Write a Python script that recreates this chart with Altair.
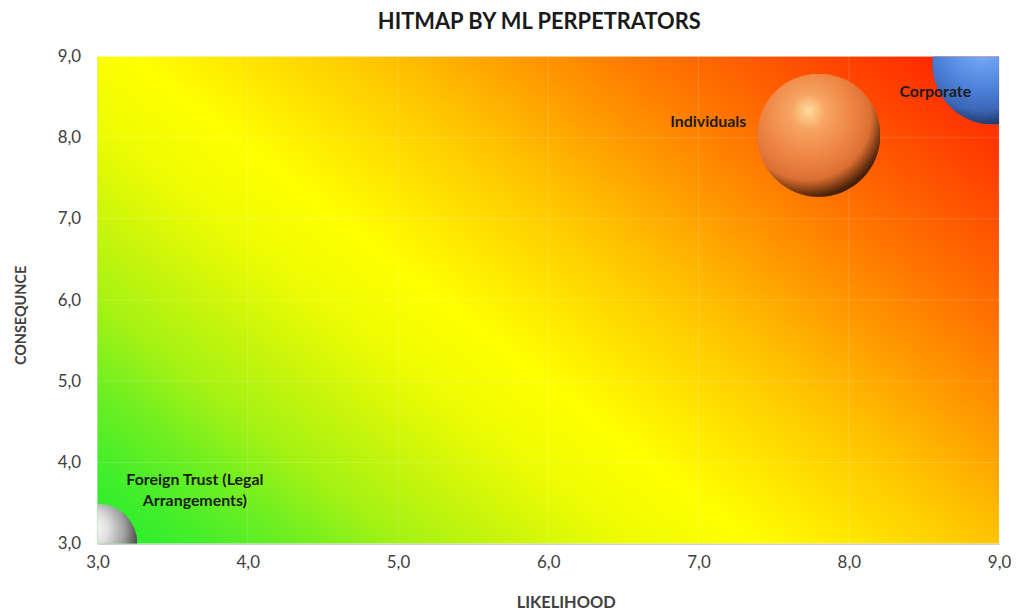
import altair as alt
import pandas as pd

# ---- data ----
names = ["Foreign Trust (Legal Arrangements)", "Individuals", "Corporate"]
labels = ["Foreign Trust (Legal\nArrangements)", "Individuals", "Corporate"]
likelihood = [3.0, 7.8, 8.96]
consequence = [3.0, 8.03, 8.91]
bubble_size = [4.2, 10.0, 9.7]
tick_values = [3, 4, 5, 6, 7, 8, 9]

df = pd.DataFrame({
    "name": names,
    "label": labels,
    "likelihood": likelihood,
    "consequence": consequence,
    "bubble": bubble_size,
})
bg = pd.DataFrame({"x0": [min(tick_values)], "x1": [max(tick_values)],
                   "y0": [min(tick_values)], "y1": [max(tick_values)]})
ticks = pd.DataFrame({"v": tick_values})

FONT = "Lato"
label_expr = "replace(format(datum.value, '.1f'), '.', ',')"

xscale = alt.Scale(domain=[3, 9], nice=False, zero=False)
yscale = alt.Scale(domain=[3, 9], nice=False, zero=False)

x_axis = alt.Axis(values=tick_values, labelExpr=label_expr, grid=False, ticks=False,
                  labelFlush=False, labelOverlap=False,
                  domainColor="#b0b0b0", labelFont=FONT, labelFontSize=17,
                  labelColor="#404040", labelPadding=11, title="LIKELIHOOD",
                  titleFont=FONT, titleFontSize=16.5, titleFontWeight="bold",
                  titleColor="#404040", titlePadding=24, titleX=471)
y_axis = alt.Axis(values=tick_values, labelExpr=label_expr, grid=False, ticks=False,
                  labelFlush=False, labelOverlap=False,
                  domainColor="#b0b0b0", labelFont=FONT, labelFontSize=17,
                  labelColor="#404040", labelPadding=17, title="CONSEQUNCE",
                  titleFont=FONT, titleFontSize=14.5, titleFontWeight="bold",
                  titleColor="#404040", titlePadding=29, titleY=260)

bg_gradient = {
    "gradient": "linear", "x1": 0, "y1": 1, "x2": 1.145, "y2": 0.21,
    "stops": [
        {"offset": 0.0, "color": "#22ee30"},
        {"offset": 0.07, "color": "#44ee2a"},
        {"offset": 0.14, "color": "#74ef20"},
        {"offset": 0.2, "color": "#a4f214"},
        {"offset": 0.27, "color": "#c8f50c"},
        {"offset": 0.35, "color": "#eefc02"},
        {"offset": 0.43, "color": "#ffff00"},
        {"offset": 0.5, "color": "#ffe600"},
        {"offset": 0.59, "color": "#ffc400"},
        {"offset": 0.67, "color": "#ffa000"},
        {"offset": 0.76, "color": "#ff7800"},
        {"offset": 0.86, "color": "#ff5000"},
        {"offset": 0.93, "color": "#ff3400"},
        {"offset": 1.0, "color": "#ff1a00"},
    ],
}

background = alt.Chart(bg).mark_rect(fill=bg_gradient, stroke=None).encode(
    x=alt.X("x0:Q", scale=xscale, axis=x_axis),
    x2="x1:Q",
    y=alt.Y("y0:Q", scale=yscale, axis=y_axis),
    y2="y1:Q",
)

vgrid = alt.Chart(ticks).mark_rule(color="white", opacity=0.15, strokeWidth=1).encode(
    x=alt.X("v:Q", scale=xscale)
)
hgrid = alt.Chart(ticks).mark_rule(color="white", opacity=0.15, strokeWidth=1).encode(
    y=alt.Y("v:Q", scale=yscale)
)


def sphere(stops):
    return {"gradient": "radial", "x1": 0.42, "y1": 0.3, "r1": 0,
            "x2": 0.4, "y2": 0.36, "r2": 0.72,
            "stops": [{"offset": o, "color": c} for o, c in stops]}


fills = {
    "Foreign Trust (Legal Arrangements)": sphere([(0, "#ffffff"), (0.3, "#e0e0e0"), (0.6, "#a0a0a0"), (0.8, "#5a5a5a"), (1, "#2a2a2a")]),
    "Individuals": sphere([(0, "#ffdc9c"), (0.2, "#f7a462"), (0.5, "#ee8544"), (0.72, "#dc7034"), (0.82, "#8e4418"), (0.9, "#4a2208"), (1, "#2a1204")]),
    "Corporate": sphere([(0, "#9cc4ff"), (0.25, "#6a9ef0"), (0.55, "#4a7fd6"), (0.75, "#3b66b4"), (0.86, "#27447e"), (1, "#15254a")]),
}

size_scale = alt.Scale(domain=[0, 10], range=[0, 15376])

bubbles = []
for n in names:
    bubbles.append(
        alt.Chart(df).transform_filter(alt.datum.name == n)
        .mark_circle(fill=fills[n], opacity=1, stroke=None, clip=True)
        .encode(
            x=alt.X("likelihood:Q", scale=xscale),
            y=alt.Y("consequence:Q", scale=yscale),
            size=alt.Size("bubble:Q", scale=size_scale, legend=None),
        )
    )

label_offsets = {
    "Foreign Trust (Legal Arrangements)": ("center", 98, -64),
    "Individuals": ("right", -73, -13),
    "Corporate": ("right", -22, 28),
}
texts = []
for n in names:
    align, dx, dy = label_offsets[n]
    texts.append(
        alt.Chart(df).transform_filter(alt.datum.name == n)
        .mark_text(font=FONT, fontSize=16, fontWeight="bold", color="#1c1c1c",
                   align=align, baseline="middle", dx=dx, dy=dy,
                   lineBreak="\n", lineHeight=21)
        .encode(
            x=alt.X("likelihood:Q", scale=xscale),
            y=alt.Y("consequence:Q", scale=yscale),
            text="label:N",
        )
    )

chart = alt.layer(background, vgrid, hgrid, *bubbles, *texts).properties(
    width=907,
    height=490,
    title=alt.TitleParams("HITMAP BY ML PERPETRATORS", font=FONT, fontSize=22,
                          fontWeight="bold", color="#1a1a1a", dx=-9, offset=14),
    autosize=alt.AutoSizeParams(type="none"),
    padding={"left": 90, "top": 47, "right": 12, "bottom": 68},
).configure_view(stroke=None).configure_title(anchor="middle")

chart.save("out.html", embed_options={"renderer": "svg", "actions": False})
